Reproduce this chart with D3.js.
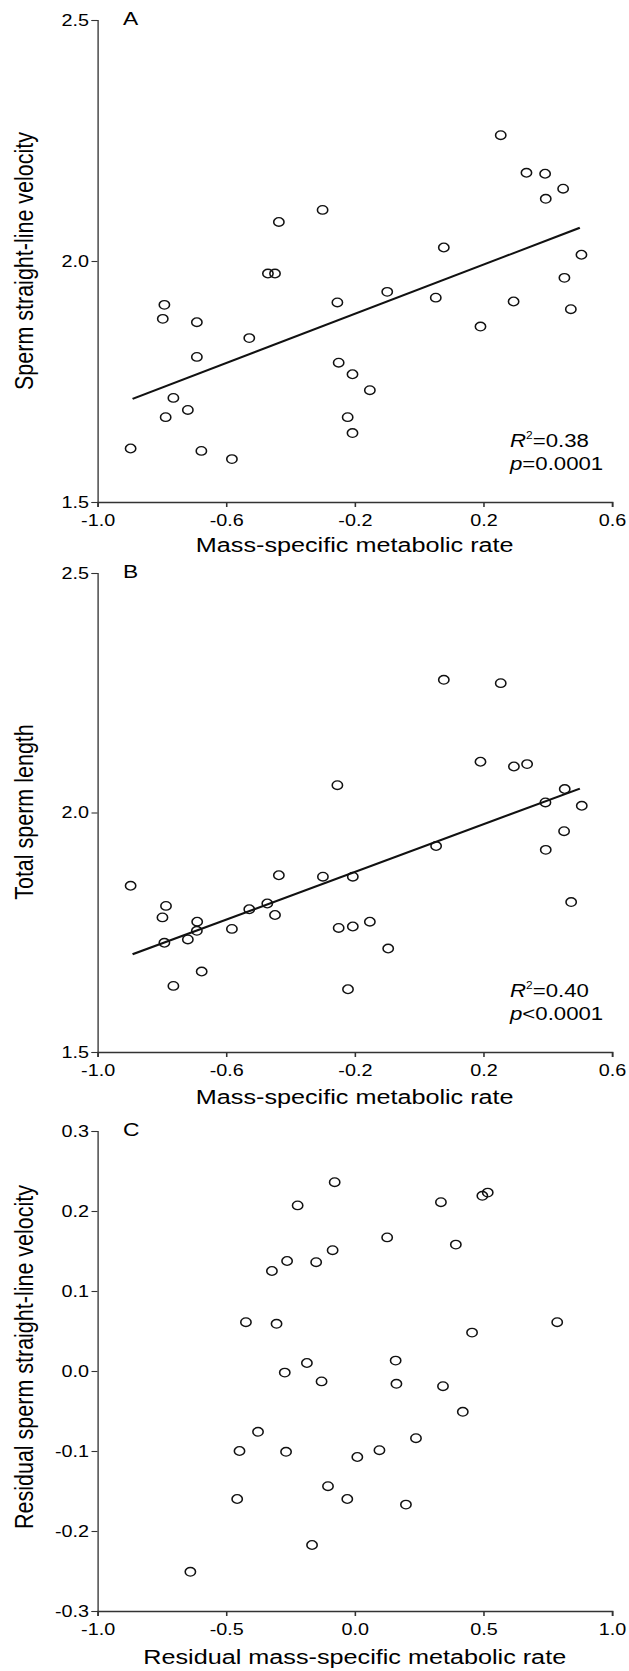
<!DOCTYPE html>
<html>
<head>
<meta charset="utf-8">
<script src="https://cdn.jsdelivr.net/npm/d3@7"></script>
<style>
  body { margin: 0; background: #fff; }
</style>
</head>
<body>
<div id="chart"></div>
<script>
// Three stacked scatter panels: velocity (A) and length (B) vs mass-specific
// metabolic rate, then residual vs residual (C).

const metabolicA = [0.254,0.334,0.392,0.448,0.394,-0.300,-0.436,0.077,0.505,-0.470,-0.448,0.452,-0.099,0.052,-0.254,0.294,0.472,-0.792,-0.797,-0.691,0.191,-0.528,-0.691,-0.250,-0.207,-0.153,-0.764,-0.719,-0.788,-0.222,-0.207,-0.897,-0.677,-0.582];
const velocityA  = [2.261,2.183,2.181,2.150,2.129,2.106,2.081,2.028,2.013,1.974,1.974,1.965,1.936,1.924,1.914,1.916,1.900,1.909,1.880,1.873,1.864,1.840,1.801,1.789,1.765,1.732,1.716,1.691,1.676,1.676,1.643,1.611,1.606,1.589];

const metabolicB = [0.077,0.254,0.191,0.295,0.336,-0.254,0.453,0.393,0.506,0.451,0.053,0.394,-0.897,-0.436,-0.299,-0.206,0.473,-0.787,-0.798,-0.472,-0.528,-0.448,-0.690,-0.691,-0.582,-0.250,-0.206,-0.153,-0.719,-0.792,-0.096,-0.676,-0.764,-0.221];
const lengthB    = [2.277,2.270,2.106,2.096,2.101,2.057,2.049,2.021,2.014,1.961,1.930,1.922,1.847,1.869,1.866,1.866,1.813,1.805,1.781,1.810,1.798,1.786,1.772,1.753,1.757,1.759,1.762,1.772,1.735,1.728,1.716,1.668,1.638,1.631];

const residMetabolic = [-0.078,0.335,0.496,0.517,-0.222,0.126,0.393,-0.086,-0.263,-0.150,-0.322,-0.423,-0.304,0.787,0.456,-0.186,0.159,-0.272,-0.129,0.162,0.343,0.420,-0.376,0.238,-0.448,-0.267,0.096,0.010,-0.104,-0.457,-0.029,0.199,-0.166,-0.639];
const residVelocity  = [0.236,0.211,0.219,0.223,0.207,0.167,0.158,0.151,0.1375,0.136,0.125,0.061,0.059,0.061,0.048,0.010,0.013,-0.002,-0.013,-0.016,-0.019,-0.051,-0.076,-0.084,-0.100,-0.101,-0.099,-0.1075,-0.144,-0.160,-0.160,-0.167,-0.2175,-0.251];

// fitted regression lines (end points as drawn)
const fitLineA = { x: [-0.891, 0.500], y: [1.714, 2.069] };
const fitLineB = { x: [-0.891, 0.500], y: [1.704, 2.050] };

const xTicksAB = [-1.0, -0.6, -0.2, 0.2, 0.6];
const yTicksAB = [1.5, 2.0, 2.5];
const xTicksC  = [-1.0, -0.5, 0.0, 0.5, 1.0];
const yTicksC  = [-0.3, -0.2, -0.1, 0.0, 0.1, 0.2, 0.3];

const statsA = { r2: "0.38", p: "=0.0001" };
const statsB = { r2: "0.40", p: "<0.0001" };


// the original figure is stretched sideways, so draw in a narrower space
const stretch = 1.2;
const width  = 629;
const height = 1671;
const innerWidth = width / stretch;

const fontFamily = "'Liberation Sans', Arial, sans-serif";
const ink = "#000";
const axisInk = "#333";

const svg = d3.select("#chart")
  .append("svg")
  .attr("width", width)
  .attr("height", height)
  .attr("viewBox", `0 0 ${innerWidth} ${height}`)
  .attr("preserveAspectRatio", "none")
  .style("display", "block");

svg.append("rect")
  .attr("width", innerWidth)
  .attr("height", height)
  .attr("fill", "#fff");

const xLeft  = 97.5 / stretch;
const xRight = 612 / stretch;

const panels = [
  {
    letter: "A", xs: metabolicA, ys: velocityA,
    xDomain: [-1.0, 0.6], yDomain: [1.5, 2.5], top: 20, bottom: 502,
    xTicks: xTicksAB, yTicks: yTicksAB,
    xTitle: "Mass-specific metabolic rate",
    yTitle: "Sperm straight-line velocity", yTitleCenter: 261,
    xTitleGap: 50, fit: fitLineA, stats: statsA,
  },
  {
    letter: "B", xs: metabolicB, ys: lengthB,
    xDomain: [-1.0, 0.6], yDomain: [1.5, 2.5], top: 573, bottom: 1052,
    xTicks: xTicksAB, yTicks: yTicksAB,
    xTitle: "Mass-specific metabolic rate",
    yTitle: "Total sperm length", yTitleCenter: 812,
    xTitleGap: 52, fit: fitLineB, stats: statsB,
  },
  {
    letter: "C", xs: residMetabolic, ys: residVelocity,
    xDomain: [-1.0, 1.0], yDomain: [-0.3, 0.3], top: 1131, bottom: 1611,
    xTitle: "Residual mass-specific metabolic rate",
    xTicks: xTicksC, yTicks: yTicksC,
    yTitle: "Residual sperm straight-line velocity", yTitleCenter: 1357,
    xTitleGap: 53, fit: null, stats: null,
  },
];

const fmt = d => d.toFixed(1);

panels.forEach(panel => {
  const x = d3.scaleLinear().domain(panel.xDomain).range([xLeft, xRight]);
  const y = d3.scaleLinear().domain(panel.yDomain).range([panel.bottom, panel.top]);

  const g = svg.append("g");

  // y axis
  g.append("g")
    .attr("transform", `translate(${xLeft},0)`)
    .call(d3.axisLeft(y).tickValues(panel.yTicks).tickFormat(fmt).tickSize(5).tickPadding(2))
    .call(a => a.selectAll("path, line").attr("stroke", axisInk).attr("stroke-width", 1.1))
    .call(a => a.selectAll("text")
      .attr("fill", ink)
      .attr("font-family", fontFamily)
      .attr("font-size", "16.5px"));

  // x axis
  g.append("g")
    .attr("transform", `translate(0,${panel.bottom})`)
    .call(d3.axisBottom(x).tickValues(panel.xTicks).tickFormat(fmt).tickSize(5).tickPadding(7))
    .call(a => a.selectAll("path, line").attr("stroke", axisInk).attr("stroke-width", 1.3))
    .call(a => a.selectAll("text")
      .attr("fill", ink)
      .attr("font-family", fontFamily)
      .attr("font-size", "16.5px"));

  // axis titles
  g.append("text")
    .attr("x", (xLeft + xRight) / 2)
    .attr("y", panel.bottom + panel.xTitleGap)
    .attr("text-anchor", "middle")
    .attr("fill", ink)
    .attr("font-family", fontFamily)
    .attr("font-size", "21px")
    .text(panel.xTitle);

  g.append("text")
    .attr("transform", `translate(${33 / stretch},${panel.yTitleCenter}) rotate(-90)`)
    .attr("text-anchor", "middle")
    .attr("fill", ink)
    .attr("font-family", fontFamily)
    .attr("font-size", "21.5px")
    .text(panel.yTitle);

  // panel letter
  g.append("text")
    .attr("x", 123 / stretch)
    .attr("y", panel.top + 5)
    .attr("fill", ink)
    .attr("font-family", fontFamily)
    .attr("font-size", "19px")
    .text(panel.letter);

  // regression line
  if (panel.fit) {
    g.append("line")
      .attr("x1", x(panel.fit.x[0]))
      .attr("y1", y(panel.fit.y[0]))
      .attr("x2", x(panel.fit.x[1]))
      .attr("y2", y(panel.fit.y[1]))
      .attr("stroke", "#111")
      .attr("stroke-width", 2);
  }

  // points
  g.append("g")
    .selectAll("circle")
    .data(panel.xs.map((v, i) => [v, panel.ys[i]]))
    .join("circle")
    .attr("cx", d => x(d[0]))
    .attr("cy", d => y(d[1]))
    .attr("r", 4.3)
    .attr("fill", "none")
    .attr("stroke", "#111")
    .attr("stroke-width", 1.3);

  // R² and p
  if (panel.stats) {
    const sx = 510 / stretch;
    const r2 = g.append("text")
      .attr("x", sx)
      .attr("y", panel.bottom - 55)
      .attr("fill", ink)
      .attr("font-family", fontFamily)
      .attr("font-size", "18.5px");
    r2.append("tspan").attr("font-style", "italic").text("R");
    r2.append("tspan").attr("font-size", "10px").attr("dy", -8).text("2");
    r2.append("tspan").attr("dy", 8).text("=" + panel.stats.r2);

    const p = g.append("text")
      .attr("x", sx)
      .attr("y", panel.bottom - 32)
      .attr("fill", ink)
      .attr("font-family", fontFamily)
      .attr("font-size", "18.5px");
    p.append("tspan").attr("font-style", "italic").text("p");
    p.append("tspan").text(panel.stats.p);
  }
});
</script>
</body>
</html>
